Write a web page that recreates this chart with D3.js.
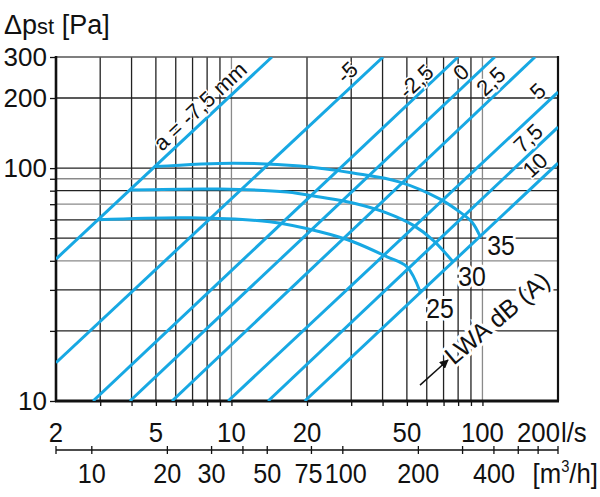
<!DOCTYPE html>
<html>
<head>
<meta charset="utf-8">
<script src="https://cdn.jsdelivr.net/npm/d3@7"></script>
<style>
  body { margin: 0; background: #fff; }
  text { font-family: "Liberation Sans", Arial, sans-serif; fill: #111; }
</style>
</head>
<body>
<div id="chart"></div>
<script>
// values
var xGrid = [3, 4, 5, 6, 7, 8, 9, 10, 20, 30, 40, 50, 60, 70, 80, 90, 100];
var xGridLight = [10, 100];
var yGrid = [20, 30, 40, 50, 60, 70, 80, 90, 100, 200];
var yGridLight = [40, 70, 90];
var yTicks = [10, 20, 30, 40, 50, 60, 70, 80, 90, 100, 200, 300];
var xLabels = [2, 5, 10, 20, 50, 100];
var yLabels = [10, 100, 200, 300];
var m3hTicks = [10, 20, 30, 40, 50, 75, 100, 200, 300, 400, 500, 600];
var m3hLabels = [10, 20, 30, 50, 75, 100, 200, 400];

// a-lines (damper setting), start and end point [l/s, Pa]
var aNames = ["a = -7,5 mm", "-5", "-2,5", "0", "2,5", "5", "7,5", "10"];
var aStart = [[2, 40.7], [2, 14.6], [2.81, 10], [3.94, 10], [5.8, 10], [9.7, 10], [14, 10], [19.6, 10]];
var aEnd = [[14.5, 300], [40.2, 300], [80, 300], [112, 300], [162, 300], [200, 212], [200, 150], [200, 105]];
var aLabelPos = [[7.49, 184.5], [28.9, 258], [54.4, 236], [82.1, 258], [108, 236], [166, 214], [152, 134.5], [162, 103]];

// sound power curves LWA dB(A)
var lwaLevels = [25, 30, 35];
var lwa25 = [[2.94, 60], [6.84, 61.2], [14.2, 58.8], [22.5, 53.3], [30.5, 48.3], [41.7, 41.6], [50, 37.7], [56.4, 29.5]];
var lwa30 = [[3.94, 80.5], [9.0, 81.3], [16.65, 78.9], [22.5, 75.1], [30.5, 70.8], [41.7, 64.1], [52.9, 56.9], [63.5, 49.1], [76, 39.8]];
var lwa35 = [[4.96, 101.5], [10.2, 105], [18.8, 102], [30.5, 95.2], [46.9, 87.1], [67.8, 73.6], [81.4, 64.7], [90.9, 58.6], [97.8, 51]];
var lwaLabelPos = [[67.8, 25.1], [90.9, 34.4], [118.6, 46.7]];

var width = 600, height = 497;
var blue = "#17a8e3";

var svg = d3.select("#chart")
  .append("svg")
    .attr("width", width)
    .attr("height", height);

var x = d3.scaleLog().domain([2, 200]).range([56, 558]);
var y = d3.scaleLog().domain([10, 300]).range([401, 57]);
// second axis, m3/h = 3.6 * l/s
var xm = d3.scaleLog().domain([2 * 3.6, 200 * 3.6]).range([56, 558]);

// narrowed text helper (the print uses a condensed face)
function label(g, px, py, txt, size, sx, anchor) {
  return g.append("text")
    .attr("transform", "translate(" + px + "," + py + ") scale(" + sx + ",1)")
    .attr("text-anchor", anchor || "middle")
    .attr("font-size", size)
    .text(txt);
}

svg.append("clipPath").attr("id", "plot")
  .append("rect")
    .attr("x", x(2)).attr("y", y(300))
    .attr("width", x(200) - x(2)).attr("height", y(10) - y(300));

// grid
svg.append("g").selectAll("line")
  .data(xGrid)
  .enter().append("line")
    .attr("x1", d => x(d)).attr("x2", d => x(d))
    .attr("y1", y(10)).attr("y2", y(300))
    .attr("stroke", d => xGridLight.includes(d) ? "#8a8a8a" : "#222")
    .attr("stroke-width", 1.3);

svg.append("g").selectAll("line")
  .data(yGrid)
  .enter().append("line")
    .attr("x1", x(2)).attr("x2", x(200))
    .attr("y1", d => y(d)).attr("y2", d => y(d))
    .attr("stroke", d => yGridLight.includes(d) ? "#8a8a8a" : "#222")
    .attr("stroke-width", 1.3);

// tick marks
svg.append("g")
  .attr("transform", "translate(0," + y(10) + ")")
  .call(d3.axisBottom(x).tickValues(xGrid).tickSize(5).tickFormat(""))
  .call(g => g.select(".domain").remove())
  .selectAll("line").attr("stroke", "#111").attr("stroke-width", 1.3);

svg.append("g")
  .attr("transform", "translate(" + x(2) + ",0)")
  .call(d3.axisLeft(y).tickValues(yTicks).tickSize(6).tickFormat(""))
  .call(g => g.select(".domain").remove())
  .selectAll("line").attr("stroke", "#111").attr("stroke-width", 1.3);

// frame
svg.append("line").attr("x1", x(2)).attr("x2", x(200)).attr("y1", y(300)).attr("y2", y(300))
  .attr("stroke", "#555").attr("stroke-width", 1.6);
svg.append("line").attr("x1", x(200)).attr("x2", x(200)).attr("y1", y(300) - 1).attr("y2", y(10))
  .attr("stroke", "#111").attr("stroke-width", 2.2);
svg.append("line").attr("x1", x(2)).attr("x2", x(2)).attr("y1", y(300) - 1).attr("y2", y(10))
  .attr("stroke", "#111").attr("stroke-width", 2.6);
svg.append("line").attr("x1", x(2) - 1).attr("x2", x(200) + 1).attr("y1", y(10)).attr("y2", y(10))
  .attr("stroke", "#111").attr("stroke-width", 3);

// blue lines
var plot = svg.append("g").attr("clip-path", "url(#plot)");

plot.selectAll(".aline")
  .data(aNames)
  .enter().append("line")
    .attr("class", "aline")
    .attr("x1", (d, i) => x(aStart[i][0])).attr("y1", (d, i) => y(aStart[i][1]))
    .attr("x2", (d, i) => x(aEnd[i][0])).attr("y2", (d, i) => y(aEnd[i][1]))
    .attr("stroke", blue).attr("stroke-width", 3);

var curve = d3.line()
  .x(d => x(d[0])).y(d => y(d[1]))
  .curve(d3.curveCatmullRom.alpha(0.5));

plot.selectAll(".lwa")
  .data([lwa25, lwa30, lwa35])
  .enter().append("path")
    .attr("class", "lwa")
    .attr("d", curve)
    .attr("fill", "none")
    .attr("stroke", blue).attr("stroke-width", 3);

// a-line labels
svg.selectAll(".alabel")
  .data(aNames)
  .enter().append("text")
    .attr("class", "alabel")
    .attr("transform", (d, i) => "translate(" + x(aLabelPos[i][0]) + "," + y(aLabelPos[i][1]) + ") rotate(-43)")
    .attr("text-anchor", "middle").attr("dy", "0.35em")
    .attr("font-size", 22)
    .attr("stroke", "#fff").attr("stroke-width", 3).attr("paint-order", "stroke")
    .text(d => d);

// LWA labels
svg.selectAll(".lwalabel")
  .data(lwaLevels)
  .enter().append("text")
    .attr("class", "lwalabel")
    .attr("transform", (d, i) => "translate(" + x(lwaLabelPos[i][0]) + "," + y(lwaLabelPos[i][1]) + ") scale(0.92,1)")
    .attr("text-anchor", "middle").attr("dy", "0.36em")
    .attr("font-size", 27)
    .attr("stroke", "#fff").attr("stroke-width", 6).attr("paint-order", "stroke")
    .text(d => d);

svg.append("text")
  .attr("transform", "translate(" + x(114.3) + "," + y(22.7) + ") rotate(-40)")
  .attr("text-anchor", "middle").attr("dy", "0.35em")
  .attr("font-size", 25)
  .attr("stroke", "#fff").attr("stroke-width", 6).attr("paint-order", "stroke")
  .text("LWA dB (A)");

svg.append("defs").append("marker")
  .attr("id", "arrow").attr("viewBox", "0 0 10 10")
  .attr("refX", 9).attr("refY", 5)
  .attr("markerWidth", 9).attr("markerHeight", 9)
  .attr("markerUnits", "userSpaceOnUse")
  .attr("orient", "auto")
  .append("path").attr("d", "M0,0L10,5L0,10z").attr("fill", "#111");

svg.append("line")
  .attr("x1", x(56.4)).attr("y1", y(11.7))
  .attr("x2", x(72.9)).attr("y2", y(15))
  .attr("stroke", "#111").attr("stroke-width", 1.5)
  .attr("marker-end", "url(#arrow)");

// tick labels, l/s
xLabels.forEach(d => label(svg, x(d), 442, d, 28, 0.92));
label(svg, x(200) + 2, 442, "200", 28, 0.92, "end");
label(svg, x(200) + 3, 442, "l/s", 28, 0.92, "start");

// tick labels, Pa
svg.selectAll(".ylabel")
  .data(yLabels)
  .enter().append("text")
    .attr("x", 47).attr("y", d => y(d))
    .attr("dy", "0.36em")
    .attr("text-anchor", "end").attr("font-size", 26)
    .text(d => d);

// m3/h axis
var mAxis = svg.append("g").attr("transform", "translate(0,450)");
mAxis.append("line").attr("x1", x(2)).attr("x2", x(200))
  .attr("stroke", "#111").attr("stroke-width", 1.3);
mAxis.selectAll(".mt")
  .data([xm.domain()[0]].concat(m3hTicks, [xm.domain()[1]]))
  .enter().append("line")
    .attr("x1", d => xm(d)).attr("x2", d => xm(d))
    .attr("y1", -4).attr("y2", 4)
    .attr("stroke", "#111").attr("stroke-width", 1.3);
m3hLabels.forEach(d => {
  var shift = d === 75 ? -3 : d === 100 ? 3 : 0;
  label(mAxis, xm(d) + shift, 33, d, 28, 0.9);
});

var unit = svg.append("text")
  .attr("transform", "translate(598,483) scale(0.92,1)")
  .attr("text-anchor", "end").attr("font-size", 28);
unit.append("tspan").text("[m");
unit.append("tspan").attr("font-size", 16).attr("dy", -11).text("3");
unit.append("tspan").attr("dy", 11).text("/h]");

// y title
var title = svg.append("text").attr("x", 4).attr("y", 34).attr("font-size", 27);
title.append("tspan").text("\u0394p");
title.append("tspan").attr("font-size", 22).text("st");
title.append("tspan").text(" [Pa]");
</script>
</body>
</html>
